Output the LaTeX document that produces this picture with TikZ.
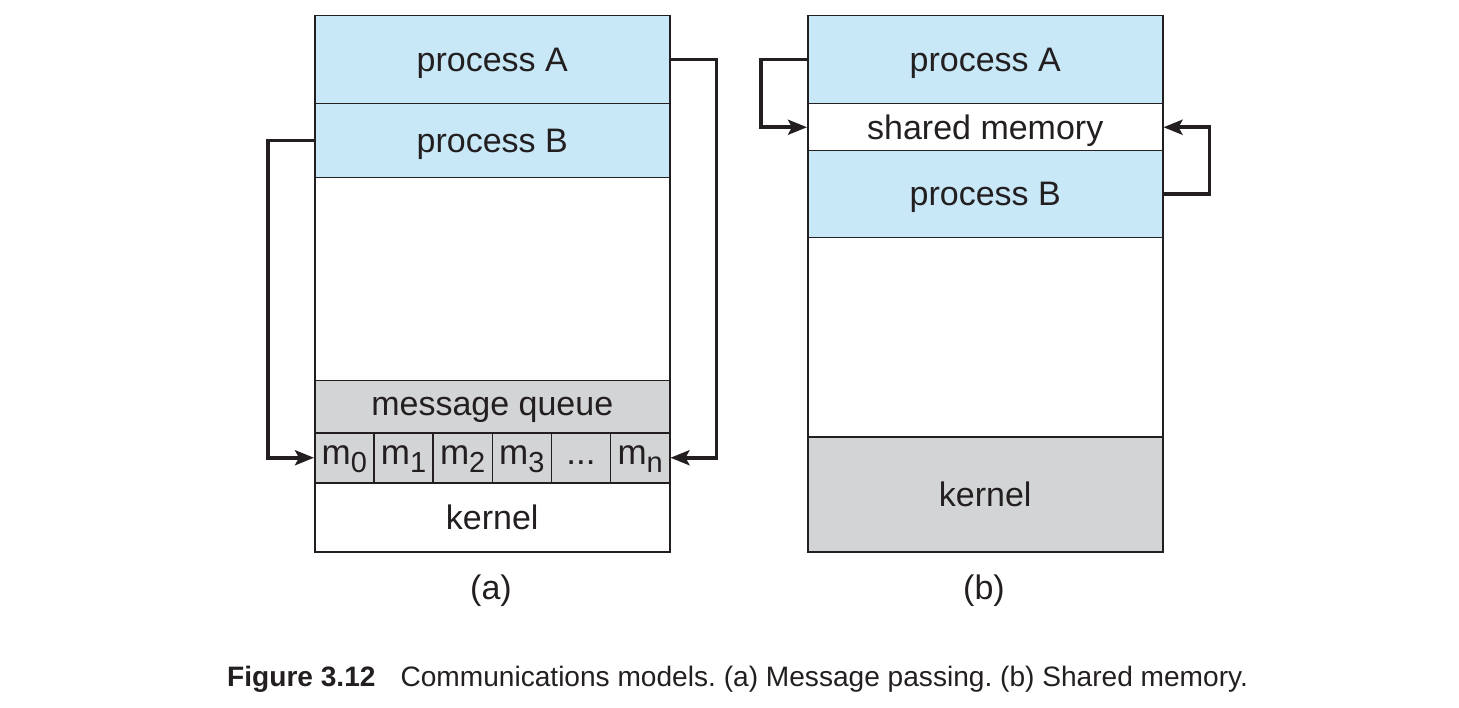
\documentclass[tikz,border=0pt]{standalone}
\usepackage{fontspec}
\setmainfont{Liberation Sans}
\usetikzlibrary{arrows.meta}
\definecolor{procblue}{RGB}{200,232,248}
\definecolor{qgray}{RGB}{211,212,214}
\definecolor{ink}{RGB}{35,31,32}
\newcommand{\msub}[1]{\raisebox{-8pt}{\fontsize{29}{30}\selectfont #1}}
\frenchspacing
\tikzset{
  box/.style={draw=ink, line width=1.5pt, rectangle, anchor=north west, inner sep=0pt,
    minimum width=355pt, text=ink, font=\fontsize{34}{40}\selectfont, text depth=0pt},
  proc/.style={box, fill=procblue},
  gbox/.style={box, fill=qgray},
  cell/.style={draw=ink, line width=1.5pt, rectangle, anchor=north west, inner sep=0pt,
    minimum width=59.17pt, minimum height=50pt, fill=qgray, text=ink,
    font=\fontsize{35}{40}\selectfont, text height=19pt, text depth=6pt},
  conn/.style={draw=ink, line width=3.5pt, -{Stealth[length=19pt,width=15pt,inset=4pt]}},
  sublabel/.style={text=ink, font=\fontsize{34}{40}\selectfont},
}
\begin{document}
\begin{tikzpicture}[x=1pt,y=-1pt]
\useasboundingbox (0,0) rectangle (1459,708);
% (a) message passing
\node[proc, minimum height=88pt] (pA) at (314,15) {process A};
\node[proc, minimum height=74pt] (pB) at (314,103) {process B};
\node[box, minimum height=203pt] (ea) at (314,177) {};
\node[gbox, minimum height=52pt] (mq) at (314,380) {message queue};
\node[cell] (m0) at (314,432) {m\msub{0}};
\node[cell] (m1) at (373.17,432) {m\msub{1}};
\node[cell] (m2) at (432.33,432) {m\msub{2}};
\node[cell] (m3) at (491.5,432) {m\msub{3}};
\node[cell] (m4) at (550.67,432) {...};
\node[cell] (mn) at (609.83,432) {m\msub{n}};
\node[box, minimum height=69pt] (ka) at (314,482) {kernel};
\node[sublabel] (la) at (491,591) {(a)};
\draw[conn] (pB.west) -- ++(-46,0) |- (m0.west);
\draw[conn] (pA.east) -- ++(46,0) |- (mn.east);
% (b) shared memory
\node[proc, minimum height=88pt] (pA2) at (807,15) {process A};
\node[box, minimum height=47pt] (sm) at (807,103) {shared memory};
\node[proc, minimum height=87pt] (pB2) at (807,150) {process B};
\node[box, minimum height=199pt] (eb) at (807,237) {};
\node[gbox, minimum height=115pt] (kb) at (807,436) {kernel};
\node[sublabel] (lb) at (984,591) {(b)};
\draw[conn] (pA2.west) -- ++(-46,0) |- (sm.west);
\draw[conn] (pB2.east) -- ++(46,0) |- (sm.east);
% caption
\node[anchor=base west, inner sep=0pt, text=ink, font=\fontsize{28.1}{32}\selectfont] (cap) at (227,686)
  {\textbf{Figure 3.12}\hspace{25pt}Communications models. (a) Message passing. (b) Shared memory.};
\end{tikzpicture}
\end{document}
